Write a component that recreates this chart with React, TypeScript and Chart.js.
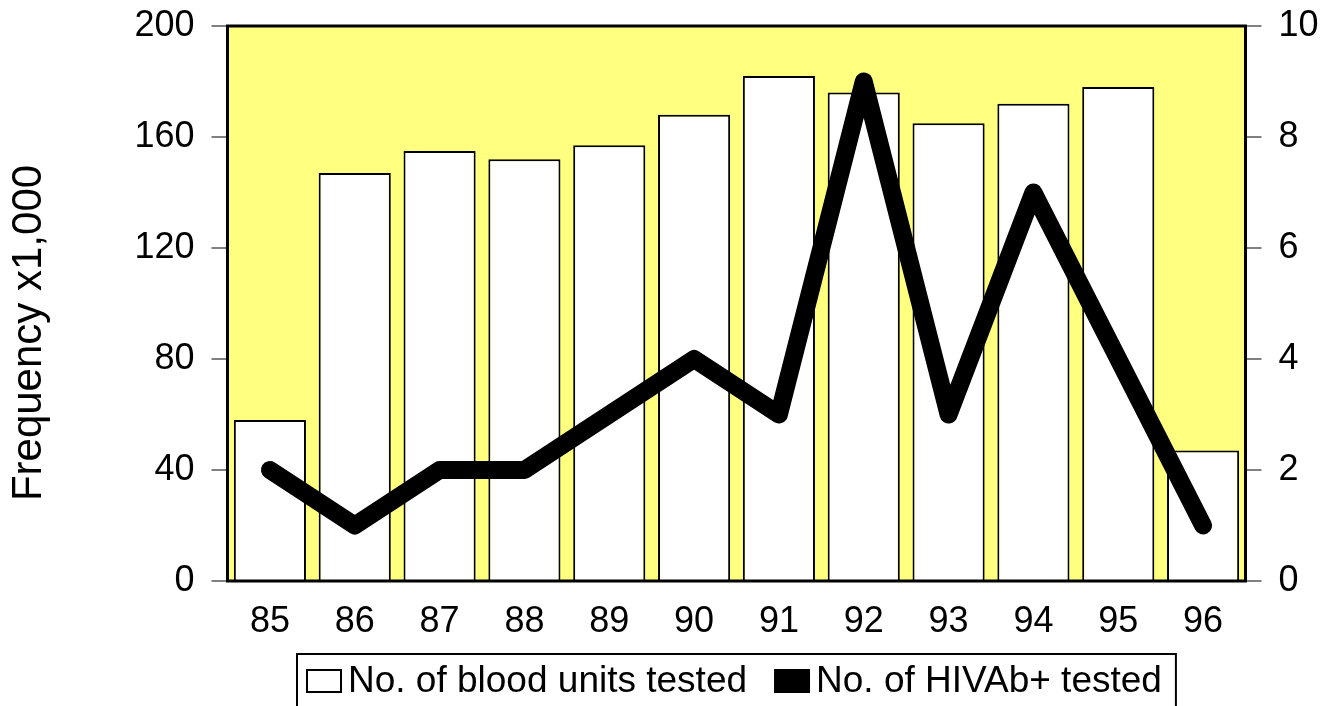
import React, { useEffect, useRef } from "react";
import { Chart, registerables } from "chart.js";

Chart.register(...registerables);

const years = ["85", "86", "87", "88", "89", "90", "91", "92", "93", "94", "95", "96"];
const bloodUnits = [58, 147, 155, 152, 157, 168, 182, 176, 165, 172, 178, 47];
const hivPositive = [2, 1, 2, 2, 3, 4, 3, 9, 3, 7, 4, 1];
const seriesLabels = ["No. of blood units tested", "No. of HIVAb+ tested"];
const leftAxisTitle = "Frequency x1,000";

const FONT = "'Liberation Sans', Arial, sans-serif";

const backgroundPlugin = {
  id: "plotBackground",
  beforeDatasetsDraw(chart: any) {
    const { ctx, chartArea } = chart;
    ctx.save();
    ctx.fillStyle = "#FFFF80";
    ctx.fillRect(chartArea.left, chartArea.top, chartArea.right - chartArea.left, chartArea.bottom - chartArea.top);
    ctx.restore();
  },
  afterDatasetsDraw(chart: any) {
    const { ctx, chartArea } = chart;
    ctx.save();
    ctx.strokeStyle = "#000";
    ctx.lineWidth = 3;
    ctx.strokeRect(chartArea.left, chartArea.top, chartArea.right - chartArea.left, chartArea.bottom - chartArea.top);
    ctx.restore();
  },
};

const axisTitlePlugin = {
  id: "axisTitle",
  afterDraw(chart: any) {
    const { ctx } = chart;
    ctx.save();
    ctx.font = `42px ${FONT}`;
    ctx.fillStyle = "#000";
    ctx.textAlign = "center";
    ctx.textBaseline = "middle";
    ctx.translate(29, 333);
    ctx.rotate(-Math.PI / 2);
    ctx.fillText(leftAxisTitle, 0, 0);
    ctx.restore();
  },
};

const legendPlugin = {
  id: "boxLegend",
  afterDraw(chart: any) {
    const { ctx, chartArea } = chart;
    const datasets = chart.data.datasets;
    ctx.save();
    ctx.font = `37px ${FONT}`;
    ctx.textBaseline = "middle";
    const top = chartArea.bottom + 72;
    const cy = top + 28;
    const left = 296;
    let x = left + 10;
    const boxW = 36;
    const boxH = 24;
    datasets.forEach((d: any, i: number) => {
      ctx.lineWidth = 2;
      ctx.strokeStyle = "#000";
      if (i === 0) {
        ctx.fillStyle = "#fff";
        ctx.fillRect(x, cy - boxH / 2, boxW, boxH);
        ctx.strokeRect(x + 1, cy - boxH / 2 + 1, boxW - 2, boxH - 2);
      } else {
        ctx.fillStyle = "#000";
        ctx.fillRect(x, cy - boxH / 2, boxW, boxH);
      }
      x += boxW + 6;
      ctx.fillStyle = "#000";
      ctx.fillText(d.label, x, cy + 1);
      x += ctx.measureText(d.label).width + 27;
    });
    const right = x - 27 + 15;
    ctx.lineWidth = 2;
    ctx.strokeStyle = "#000";
    ctx.strokeRect(left + 1, top + 1, right - left - 2, 80);
    ctx.restore();
  },
};

function noPad(scale: any) {
  scale.paddingTop = 0;
  scale.paddingBottom = 0;
}

export default function App() {
  const canvasRef = useRef<HTMLCanvasElement | null>(null);

  useEffect(() => {
    if (!canvasRef.current) return;
    const tickFont = { family: FONT, size: 36 };
    const chart = new Chart(canvasRef.current, {
      type: "bar",
      data: {
        labels: years,
        datasets: [
          {
            type: "bar",
            label: seriesLabels[0],
            data: bloodUnits,
            yAxisID: "y",
            backgroundColor: "#fff",
            borderColor: "#000",
            borderWidth: 2,
            barPercentage: 0.85,
            categoryPercentage: 1,
            order: 1,
          },
          {
            type: "line",
            label: seriesLabels[1],
            data: hivPositive,
            yAxisID: "y1",
            borderColor: "#000",
            backgroundColor: "#000",
            borderWidth: 18,
            borderCapStyle: "round",
            borderJoinStyle: "round",
            pointRadius: 0,
            tension: 0,
            order: 0,
          } as any,
        ],
      },
      options: {
        responsive: false,
        animation: false,
        layout: { padding: { top: 26, bottom: 65, left: 0, right: 0 } },
        plugins: {
          legend: { display: false },
          tooltip: { enabled: false },
        },
        scales: {
          x: {
            grid: { display: false },
            border: { display: false },
            ticks: { font: tickFont, color: "#000", padding: 11, maxRotation: 0 },
            afterFit(scale: any) {
              scale.height = 60;
              scale.paddingLeft = 0;
              scale.paddingRight = 0;
            },
          },
          y: {
            position: "left",
            min: 0,
            max: 200,
            ticks: { stepSize: 40, font: tickFont, color: "#000", padding: 17 },
            grid: { drawOnChartArea: false, drawTicks: true, tickLength: 16, color: "#808080", lineWidth: 2 },
            border: { display: false },
            afterFit(scale: any) {
              scale.width = 227.5;
              noPad(scale);
            },
          },
          y1: {
            position: "right",
            min: 0,
            max: 10,
            ticks: { stepSize: 2, font: tickFont, color: "#000", padding: 17 },
            grid: { drawOnChartArea: false, drawTicks: true, tickLength: 16, color: "#808080", lineWidth: 2 },
            border: { display: false },
            afterFit(scale: any) {
              scale.width = 84.5;
              noPad(scale);
            },
          },
        },
      },
      plugins: [backgroundPlugin, axisTitlePlugin, legendPlugin],
    });
    return () => chart.destroy();
  }, []);

  return (
    <div style={{ position: "fixed", left: 0, top: 0, width: 1330, height: 706, background: "#fff" }}>
      <canvas ref={canvasRef} width={1330} height={706} style={{ display: "block", width: 1330, height: 706 }} />
    </div>
  );
}
